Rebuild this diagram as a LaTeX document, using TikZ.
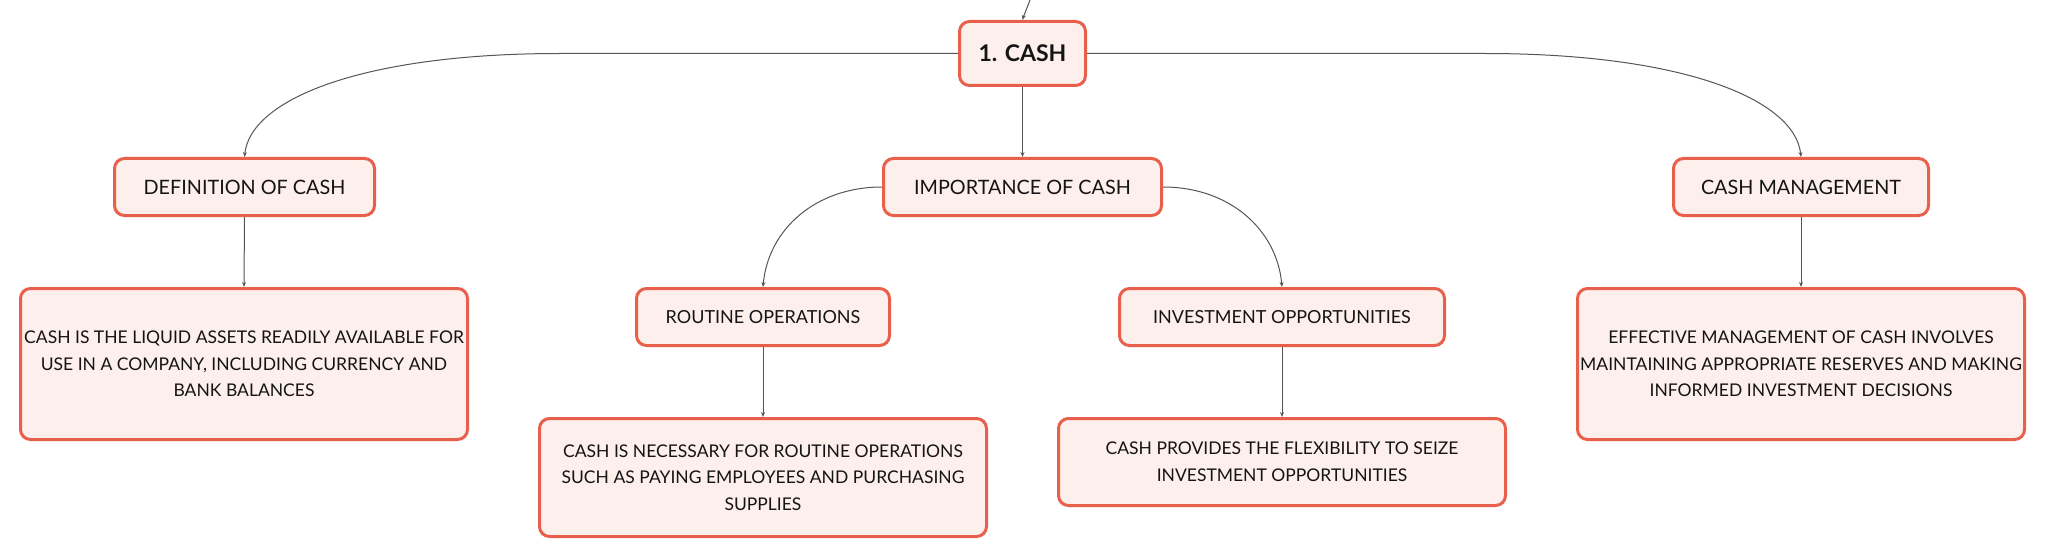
\documentclass[tikz,border=0pt]{standalone}
\usepackage{fontspec}
\setmainfont{Lato}
\usetikzlibrary{arrows.meta}
\definecolor{boxline}{RGB}{232,96,76}
\definecolor{boxfill}{RGB}{253,240,236}
\definecolor{conn}{RGB}{85,85,85}
\definecolor{txt}{RGB}{20,20,20}
\tikzset{
  box/.style={draw=boxline, fill=boxfill, line width=3pt, rounded corners=10pt,
    align=center, text=txt, inner sep=0pt},
  rootbox/.style={box, font=\fontsize{23}{27}\selectfont\bfseries, minimum width=126pt, minimum height=64pt},
  lvlone/.style={box, font=\fontsize{19.8}{24}\selectfont, minimum height=57pt},
  lvltwo/.style={box, font=\fontsize{18}{22}\selectfont, minimum height=57pt},
  detail/.style={box, font=\fontsize{17.5}{26.7}\selectfont, minimum width=447pt},
  conn/.style={draw=conn, line width=1pt, -{Stealth[length=5pt,width=4pt]}},
}
\begin{document}
\begin{tikzpicture}[x=1pt,y=-1pt]
\useasboundingbox (0,0) rectangle (2046,559);
\node[rootbox] (cash) at (1022.5,53.5) {1. CASH};
\node[lvlone, minimum width=260pt] (def) at (244.5,187) {DEFINITION OF CASH};
\node[lvlone, minimum width=278pt] (imp) at (1022.5,187) {IMPORTANCE OF CASH};
\node[lvlone, minimum width=255pt] (mgmt) at (1801,187) {CASH MANAGEMENT};
\node[lvltwo, minimum width=253pt] (rout) at (763,317) {ROUTINE OPERATIONS};
\node[lvltwo, minimum width=325pt] (inv) at (1282,317) {INVESTMENT OPPORTUNITIES};
\node[detail, minimum height=151pt] (defd) at (244,364) {CASH IS THE LIQUID ASSETS READILY AVAILABLE FOR\\USE IN A COMPANY, INCLUDING CURRENCY AND\\BANK BALANCES};
\node[detail, minimum height=118pt] (routd) at (763,477.5) {CASH IS NECESSARY FOR ROUTINE OPERATIONS\\SUCH AS PAYING EMPLOYEES AND PURCHASING\\SUPPLIES};
\node[detail, minimum height=87pt] (invd) at (1282,462) {CASH PROVIDES THE FLEXIBILITY TO SEIZE\\INVESTMENT OPPORTUNITIES};
\node[detail, minimum height=151pt] (mgmtd) at (1801,364) {EFFECTIVE MANAGEMENT OF CASH INVOLVES\\MAINTAINING APPROPRIATE RESERVES AND MAKING\\INFORMED INVESTMENT DECISIONS};
\coordinate (top) at (1030,0);
\draw[conn] (top) .. controls (1026,8) .. (cash.north);
\draw[conn] (cash.west) -- (560,53.5) .. controls (360,53.5) and (250,100) .. (def.north);
\draw[conn] (cash.east) -- (1485,53.5) .. controls (1685,53.5) and (1795,100) .. (mgmt.north);
\draw[conn] (cash.south) -- (imp.north);
\draw[conn] (imp.west) .. controls (815,187) and (768,230) .. (rout.north);
\draw[conn] (imp.east) .. controls (1230,187) and (1277,230) .. (inv.north);
\draw[conn] (def.south) -- (defd.north);
\draw[conn] (mgmt.south) -- (mgmtd.north);
\draw[conn] (rout.south) -- (routd.north);
\draw[conn] (inv.south) -- (invd.north);
\end{tikzpicture}
\end{document}
